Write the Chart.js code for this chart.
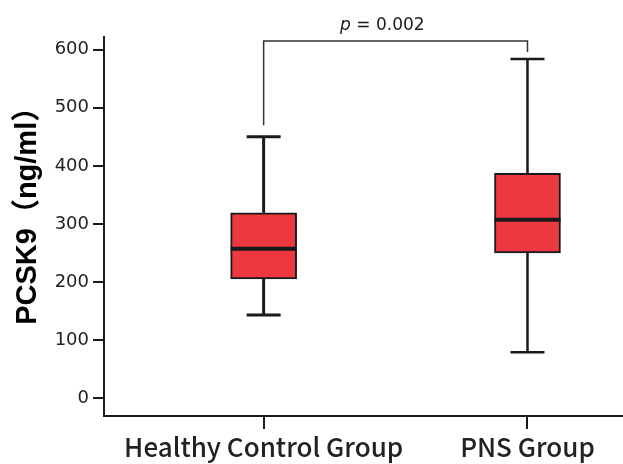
<!DOCTYPE html>
<html lang="en">

<head>
    <title>PCSK9 box plot</title>
    <script src="https://cdn.jsdelivr.net/npm/chart.js"></script>
    <style>
        body { margin: 0; background: #fff; }
        #wrap { width: 623px; height: 464px; }
    </style>
</head>

<body>
    <div id="wrap"><canvas id="boxChart"></canvas></div>

    <script>
        // values
        const groups = ['Healthy Control Group', 'PNS Group'];
        const whiskerLow = [143, 79];
        const q1 = [205, 250];
        const median = [257, 307];
        const q3 = [319, 387];
        const whiskerHigh = [450, 584];
        const yTicks = [0, 100, 200, 300, 400, 500, 600];
        const yTitle = 'PCSK9（ng/ml）';
        const pValue = '0.002';

        const ink = '#1a1a1a';
        const boxRed = '#ec383e';

        // whiskers, medians, bracket and title drawn on top of the bars
        const boxExtras = {
            id: 'boxExtras',
            afterDatasetsDraw(chart) {
                const ctx = chart.ctx;
                const x = chart.scales.x;
                const y = chart.scales.y;
                ctx.save();
                ctx.strokeStyle = ink;
                groups.forEach((g, i) => {
                    const cx = x.getPixelForValue(i + 1);
                    const capHalf = 17;
                    ctx.lineWidth = i === 0 ? 3 : 2.5;
                    ctx.beginPath();
                    ctx.moveTo(cx, y.getPixelForValue(q3[i]));
                    ctx.lineTo(cx, y.getPixelForValue(whiskerHigh[i]));
                    ctx.moveTo(cx, y.getPixelForValue(q1[i]));
                    ctx.lineTo(cx, y.getPixelForValue(whiskerLow[i]));
                    ctx.moveTo(cx - capHalf, y.getPixelForValue(whiskerHigh[i]));
                    ctx.lineTo(cx + capHalf, y.getPixelForValue(whiskerHigh[i]));
                    ctx.moveTo(cx - capHalf, y.getPixelForValue(whiskerLow[i]));
                    ctx.lineTo(cx + capHalf, y.getPixelForValue(whiskerLow[i]));
                    ctx.stroke();
                    // median
                    ctx.lineWidth = 4;
                    ctx.beginPath();
                    ctx.moveTo(cx - 33, y.getPixelForValue(median[i]));
                    ctx.lineTo(cx + 33, y.getPixelForValue(median[i]));
                    ctx.stroke();
                });

                // significance bracket
                const x1 = x.getPixelForValue(1);
                const x2 = x.getPixelForValue(2);
                const top = y.getPixelForValue(615);
                ctx.lineWidth = 1.5;
                ctx.strokeStyle = '#333';
                ctx.beginPath();
                ctx.moveTo(x1, y.getPixelForValue(470));
                ctx.lineTo(x1, top);
                ctx.lineTo(x2, top);
                ctx.lineTo(x2, y.getPixelForValue(596));
                ctx.stroke();

                ctx.fillStyle = ink;
                ctx.textBaseline = 'alphabetic';
                ctx.font = 'italic 17px "DejaVu Sans"';
                const pw = ctx.measureText('p').width;
                ctx.font = '17px "DejaVu Sans"';
                const rest = ' = ' + pValue;
                const rw = ctx.measureText(rest).width;
                const tx = x.getPixelForValue(1.45) - (pw + rw) / 2;
                const ty = y.getPixelForValue(634);
                ctx.font = 'italic 17px "DejaVu Sans"';
                ctx.fillText('p', tx, ty);
                ctx.font = '17px "DejaVu Sans"';
                ctx.fillText(rest, tx + pw, ty);

                // y axis title
                ctx.translate(28, y.getPixelForValue(326));
                ctx.rotate(-Math.PI / 2);
                ctx.textAlign = 'center';
                ctx.textBaseline = 'middle';
                ctx.fillStyle = '#000';
                ctx.font = 'bold 29px "Liberation Sans", "Noto Sans CJK SC"';
                ctx.fillText(yTitle, 0, 0);
                ctx.restore();
            }
        };

        const ctx = document.getElementById('boxChart').getContext('2d');
        new Chart(ctx, {
            type: 'bar',
            data: {
                datasets: [{
                    data: groups.map((g, i) => ({ x: i + 1, y: [q1[i], q3[i]] })),
                    backgroundColor: boxRed,
                    borderColor: ink,
                    borderWidth: 2,
                    borderSkipped: false,
                    barThickness: 66,
                }],
            },
            options: {
                responsive: true,
                maintainAspectRatio: false,
                animation: false,
                layout: { padding: { top: 37, right: 0, left: 0, bottom: 0 } },
                plugins: { legend: { display: false }, tooltip: { enabled: false } },
                scales: {
                    x: {
                        type: 'linear',
                        min: 0.395,
                        max: 2.362,
                        offset: false,
                        afterBuildTicks: (s) => { s.ticks = groups.map((g, i) => ({ value: i + 1 })); },
                        afterFit: (s) => { s.height = 48; },
                        border: { display: true, color: ink, width: 2 },
                        grid: { offset: false, drawOnChartArea: false, drawTicks: true, tickLength: 13, color: ink, lineWidth: 2 },
                        ticks: {
                            callback: (v) => groups[v - 1],
                            color: '#222',
                            padding: 3,
                            maxRotation: 0,
                            autoSkip: false,
                            font: { family: '"Noto Sans CJK SC", "Noto Sans"', size: 26, weight: '500' },
                        },
                    },
                    y: {
                        min: -31,
                        max: 622,
                        afterBuildTicks: (s) => { s.ticks = yTicks.map((v) => ({ value: v })); },
                        afterFit: (s) => { s.width = 104; },
                        border: { display: true, color: ink, width: 2 },
                        grid: { drawOnChartArea: false, drawTicks: true, tickLength: 11, color: ink, lineWidth: 2 },
                        ticks: {
                            color: '#222',
                            padding: 4,
                            font: { family: '"DejaVu Sans"', size: 18 },
                        },
                    },
                },
            },
            plugins: [boxExtras],
        });
    </script>
</body>

</html>
